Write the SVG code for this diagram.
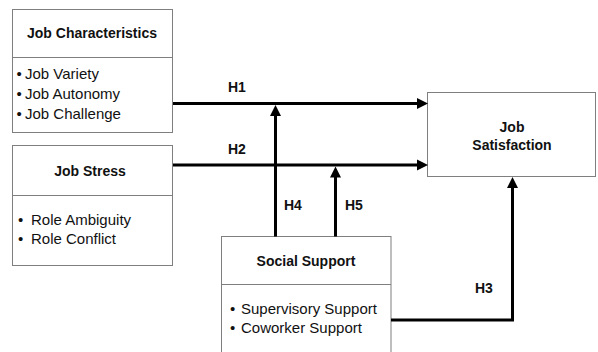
<svg xmlns="http://www.w3.org/2000/svg" width="598" height="352" viewBox="0 0 598 352">
<style>
.box{fill:#fff;stroke:#7f7f7f;stroke-width:1}
.div{stroke:#7f7f7f;stroke-width:1}
.t{font-family:"Liberation Sans",Arial,sans-serif;fill:#111}
.b{font-weight:bold;font-size:14px}
.r{font-size:15px}
.c{stroke:#000;stroke-width:3;fill:none}
</style>
<defs>
<marker id="ah" markerUnits="userSpaceOnUse" markerWidth="12" markerHeight="12" viewBox="0 0 12 12" refX="2" refY="6" orient="auto">
<path d="M0,0.5 L11,6 L0,11.5 z" fill="#000"/>
</marker>
</defs>
<rect width="598" height="352" fill="#fff"/>
<g id="job-characteristics">
<rect class="box" x="12.5" y="9.5" width="160" height="123"/>
<line class="div" x1="12.5" y1="57.5" x2="172.5" y2="57.5"/>
<text class="t b" x="92" y="38" text-anchor="middle">Job Characteristics</text>
<text class="t r" x="16.5" y="79">•</text><text class="t r" x="25" y="79">Job Variety</text>
<text class="t r" x="16.5" y="99">•</text><text class="t r" x="25" y="99">Job Autonomy</text>
<text class="t r" x="16.5" y="119">•</text><text class="t r" x="25" y="119">Job Challenge</text>
</g>
<g id="job-stress">
<rect class="box" x="12.5" y="145.5" width="160" height="120"/>
<line class="div" x1="12.5" y1="195.5" x2="172.5" y2="195.5"/>
<text class="t b" x="90" y="176" text-anchor="middle">Job Stress</text>
<text class="t r" x="18" y="225">•</text><text class="t r" x="31" y="225">Role Ambiguity</text>
<text class="t r" x="18" y="244">•</text><text class="t r" x="31" y="244">Role Conflict</text>
</g>
<g id="social-support">
<rect class="box" x="221.5" y="236.5" width="169.5" height="130"/>
<line class="div" x1="221.5" y1="284.5" x2="391" y2="284.5"/>
<text class="t b" x="306" y="266" text-anchor="middle">Social Support</text>
<text class="t r" x="230" y="314">•</text><text class="t r" x="241" y="314">Supervisory Support</text>
<text class="t r" x="230" y="333">•</text><text class="t r" x="241" y="333">Coworker Support</text>
</g>
<g id="job-satisfaction">
<rect class="box" x="427.5" y="92.5" width="168" height="84"/>
<text class="t b" x="512" y="131.5" text-anchor="middle">Job</text>
<text class="t b" x="512" y="150" text-anchor="middle">Satisfaction</text>
</g>
<g id="connectors">
<line class="c" x1="173" y1="103.5" x2="419" y2="103.5" marker-end="url(#ah)"/>
<line class="c" x1="173" y1="165" x2="419" y2="165" marker-end="url(#ah)"/>
<line class="c" x1="275.5" y1="236.5" x2="275.5" y2="114" marker-end="url(#ah)"/>
<line class="c" x1="335.5" y1="236.5" x2="335.5" y2="175.5" marker-end="url(#ah)"/>
<path class="c" d="M391,320 H512.5 V186" marker-end="url(#ah)"/>
<text class="t b" x="228" y="91.5">H1</text>
<text class="t b" x="228" y="153.5">H2</text>
<text class="t b" x="284" y="210">H4</text>
<text class="t b" x="345" y="210">H5</text>
<text class="t b" x="475" y="293">H3</text>
</g>
</svg>
